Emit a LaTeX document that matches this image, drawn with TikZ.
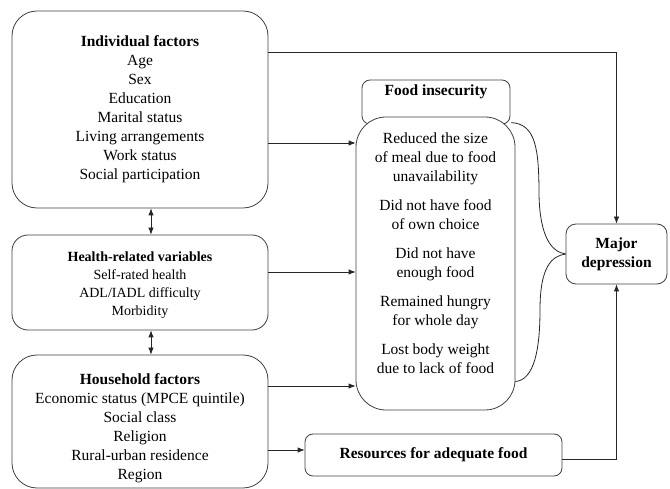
\documentclass[tikz,border=0pt]{standalone}
\usepackage{fontspec}
\setmainfont{Liberation Serif}
\newfontfamily\diagserif{Liberation Serif}
\usetikzlibrary{arrows.meta}
\begin{document}
\begin{tikzpicture}[x=1pt,y=-1pt,
    box/.style={draw=black!75, fill=white, line width=0.8pt, align=center, inner sep=0pt,
        font=\diagserif\fontsize{15.5}{19}\selectfont},
    link/.style={draw=black!85, line width=0.8pt},
    >={Latex[length=7pt,width=5.5pt]}]
    \useasboundingbox (0,0) rectangle (670,489);

    % left column
    \node[box, rounded corners=25pt, minimum width=256pt, minimum height=197pt] (indiv) at (140,109.5)
        {\textbf{Individual factors}\\Age\\Sex\\Education\\Marital status\\Living arrangements\\Work status\\Social participation};
    \node[box, rounded corners=16pt, minimum width=256pt, minimum height=95pt,
        font=\diagserif\fontsize{14}{18}\selectfont] (health) at (140,282.5)
        {\rule{0pt}{15pt}\textbf{Health-related variables}\\Self-rated health\\ADL/IADL difficulty\\Morbidity};
    \node[box, rounded corners=25pt, minimum width=256pt, minimum height=133pt] (house) at (140,421.5)
        {\rule{0pt}{24pt}\textbf{Household factors}\\Economic status (MPCE quintile)\\Social class\\Religion\\Rural-urban residence\\Region};

    % food insecurity
    \node[box, rounded corners=8pt, minimum width=148pt, minimum height=44pt] (hdr) at (436,102)
        {\textbf{Food insecurity}\\[5pt]};
    \node[box, rounded corners=30pt, minimum width=159pt, minimum height=293pt] (items) at (435.5,263.5)
        {Reduced the size\\of meal due to food\\unavailability\\[10pt]
         Did not have food\\of own choice\\[10pt]
         Did not have\\enough food\\[10pt]
         Remained hungry\\for whole day\\[10pt]
         Lost body weight\\due to lack of food\\[2pt]};

    % outcome and resources
    \node[box, rounded corners=10pt, minimum width=101pt, minimum height=60pt] (major) at (616.5,254)
        {\textbf{Major}\\\textbf{depression}};
    \node[box, rounded corners=8pt, minimum width=257pt, minimum height=42pt] (res) at (433.5,455)
        {\textbf{Resources for adequate food}};

    % connectors
    \draw[link,->] (indiv.east |- 0,52) -| (major.north);
    \draw[link,->] (indiv.east |- 0,143) -- (items.west |- 0,143);
    \draw[link,->] (health.east |- 0,272) -- (items.west |- 0,272);
    \draw[link,->] (house.east |- 0,386) -- (items.west |- 0,386);
    \draw[link,->] (house.east |- 0,450) -- (res.west |- 0,450);
    \draw[link,->] (res.east |- 0,459) -| (major.south);
    \draw[link,<->] ([xshift=11pt]indiv.south) -- ([xshift=11pt]health.north);
    \draw[link,<->] ([xshift=11pt]health.south) -- ([xshift=11pt]house.north);

    % brace-like curves into the outcome
    \draw[link] ([xshift=-4pt,yshift=-6pt]items.north east)
        .. controls (536,124) and (539,150) .. (539,195)
        .. controls (540,238) and (552,252) .. (major.west);
    \draw[link] ([yshift=-118pt]items.east)
        .. controls (534,380) and (540,350) .. (540,310)
        .. controls (540,266) and (552,256) .. (major.west);
\end{tikzpicture}
\end{document}
